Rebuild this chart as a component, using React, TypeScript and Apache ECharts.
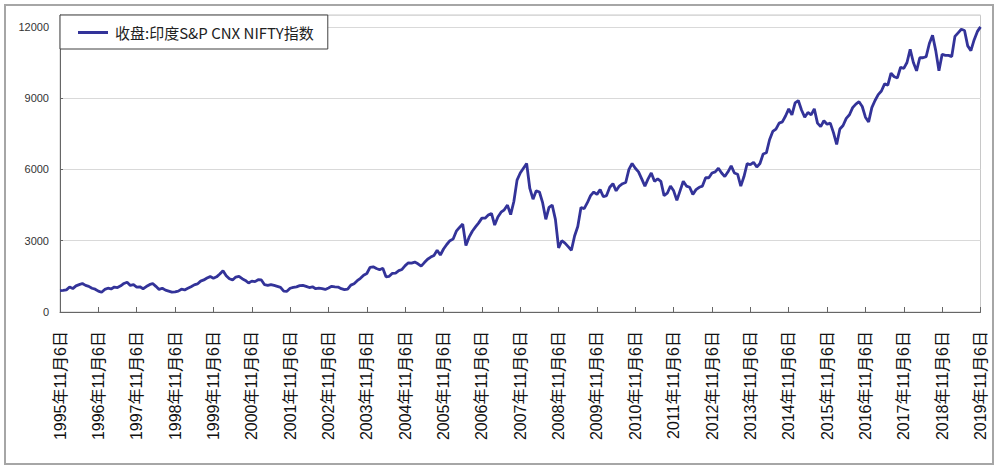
import React, { useEffect, useRef } from "react";
import * as echarts from "echarts";

// Monthly closing values, Nov 1995 .. Nov 2019
const y1995_96 = [900, 910, 930, 1050, 985, 1100, 1150, 1200, 1120, 1080, 1000, 960];
const y1996_97 = [880, 830, 950, 1000, 970, 1050, 1030, 1100, 1200, 1250, 1120, 1150];
const y1997_98 = [1050, 1060, 980, 1070, 1150, 1200, 1080, 950, 1000, 920, 880, 840];
const y1998_99 = [850, 880, 960, 930, 1000, 1060, 1140, 1180, 1300, 1350, 1430, 1490];
const y1999_00 = [1420, 1480, 1600, 1740, 1530, 1400, 1350, 1470, 1500, 1400, 1330, 1220];
const y2000_01 = [1300, 1280, 1360, 1350, 1150, 1120, 1150, 1120, 1080, 1040, 880, 870];
const y2001_02 = [1000, 1040, 1060, 1110, 1120, 1080, 1030, 1060, 980, 1000, 980, 950];
const y2002_03 = [1010, 1080, 1060, 1050, 980, 940, 960, 1130, 1190, 1320, 1420, 1550];
const y2003_04 = [1620, 1880, 1900, 1830, 1780, 1840, 1480, 1500, 1630, 1640, 1740, 1790];
const y2004_05 = [1950, 2070, 2060, 2100, 2030, 1930, 2080, 2220, 2310, 2380, 2600, 2400];
const y2005_06 = [2650, 2840, 3000, 3070, 3400, 3560, 3700, 2800, 3150, 3400, 3580, 3750];
const y2006_07 = [3950, 3950, 4080, 4150, 3660, 4000, 4200, 4300, 4500, 4100, 4650, 5550];
const y2007_08 = [5850, 6050, 6250, 5200, 4750, 5100, 5050, 4600, 3900, 4400, 4500, 3900];
const y2008_09 = [2700, 3000, 2900, 2750, 2600, 3200, 3600, 4400, 4350, 4600, 4900, 5050];
const y2009_10 = [4950, 5150, 4850, 4900, 5250, 5400, 5100, 5300, 5400, 5450, 6000, 6250];
const y2010_11 = [6050, 5900, 5600, 5300, 5600, 5850, 5500, 5600, 5500, 4900, 5000, 5300];
const y2011_12 = [5100, 4700, 5100, 5500, 5300, 5250, 4950, 5150, 5250, 5300, 5650, 5650];
const y2012_13 = [5850, 5900, 6050, 5850, 5700, 5900, 6150, 5850, 5800, 5300, 5700, 6250];
const y2013_14 = [6200, 6300, 6100, 6250, 6650, 6700, 7250, 7600, 7700, 7950, 8000, 8250];
const y2014_15 = [8550, 8300, 8800, 8900, 8500, 8200, 8400, 8300, 8550, 7950, 7800, 8050];
const y2015_16 = [7900, 7950, 7550, 7050, 7700, 7850, 8150, 8300, 8600, 8750, 8850, 8650];
const y2016_17 = [8200, 8000, 8600, 8900, 9150, 9300, 9600, 9550, 10050, 9900, 9850, 10300];
const y2017_18 = [10250, 10500, 11050, 10500, 10150, 10700, 10700, 10750, 11300, 11650, 11000, 10150];
const y2018_19 = [10850, 10800, 10800, 10750, 11600, 11750, 11900, 11850, 11200, 11000, 11450, 11800];
const y2019_end = [12000];

const closeValues = [
  ...y1995_96, ...y1996_97, ...y1997_98, ...y1998_99, ...y1999_00, ...y2000_01,
  ...y2001_02, ...y2002_03, ...y2003_04, ...y2004_05, ...y2005_06, ...y2006_07,
  ...y2007_08, ...y2008_09, ...y2009_10, ...y2010_11, ...y2011_12, ...y2012_13,
  ...y2013_14, ...y2014_15, ...y2015_16, ...y2016_17, ...y2017_18, ...y2018_19,
  ...y2019_end,
];

// Category labels: one per month starting Nov 1995
const categories: string[] = closeValues.map((_, i) => {
  const total = 10 + i; // months from Jan 1995 (0-based), Nov = 10
  const year = 1995 + Math.floor(total / 12);
  const month = (total % 12) + 1;
  return `${year}年${month}月6日`;
});

const yTicks = [0, 3000, 6000, 9000, 12000];
const seriesName = "收盘:印度S&P CNX NIFTY指数";
const lineColor = "#333399";

export default function App() {
  const ref = useRef<HTMLDivElement>(null);
  useEffect(() => {
    if (!ref.current) return;
    const chart = echarts.init(ref.current, null, { renderer: "svg" });
    chart.setOption({
      animation: false,
      backgroundColor: "#ffffff",
      grid: {
        left: 60,
        right: 19.5,
        top: 15,
        bottom: 159,
        show: true,
        borderColor: "#c8c8c8",
        borderWidth: 1,
        backgroundColor: "transparent",
      },
      legend: {
        show: true,
        left: 60,
        top: 15,
        orient: "horizontal",
        backgroundColor: "#ffffff",
        borderColor: "#404040",
        borderWidth: 1,
        padding: [10, 14, 9, 18],
        itemWidth: 30,
        itemHeight: 3,
        itemGap: 4,
        icon: "rect",
        itemStyle: { color: lineColor, borderWidth: 0 },
        textStyle: {
          fontFamily: "'Noto Sans CJK SC', 'Liberation Sans', sans-serif",
          fontSize: 15,
          color: "#222",
          padding: [2, 0, 0, 2],
        },
        data: [seriesName],
      },
      xAxis: {
        type: "category",
        data: categories,
        boundaryGap: false,
        axisLine: { show: true, lineStyle: { color: "#666666", width: 1 } },
        axisTick: { show: true, inside: true, length: 5, interval: 11, lineStyle: { color: "#666666" } },
        axisLabel: {
          interval: 11,
          rotate: 90,
          margin: 19,
          fontSize: 16,
          color: "#111",
          fontFamily: "'Liberation Sans', 'Noto Sans CJK SC', sans-serif",
          showMaxLabel: true,
        },
        splitLine: { show: false },
      },
      yAxis: {
        type: "value",
        min: 0,
        max: 12500,
        interval: 3000,
        axisLine: { show: true, lineStyle: { color: "#666666", width: 1 } },
        axisTick: { show: true, inside: true, length: 3, lineStyle: { color: "#666666" } },
        axisLabel: {
          margin: 11,
          fontSize: 11,
          color: "#333",
          fontFamily: "'Liberation Sans', Arial, sans-serif",
          showMaxLabel: false,
          formatter: (v: number) => (yTicks.includes(v) ? String(v) : ""),
        },
        splitLine: { show: true, lineStyle: { color: "#d9d9d9", width: 1 } },
      },
      series: [
        {
          name: seriesName,
          type: "line",
          data: closeValues,
          symbol: "none",
          showSymbol: false,
          lineStyle: { color: lineColor, width: 2.8 },
          itemStyle: { color: lineColor },
          z: 3,
        },
      ],
      graphic: [
        {
          type: "rect",
          shape: { x: 5, y: 5, width: 988, height: 459 },
          style: { fill: "none", stroke: "#a6a6a6", lineWidth: 2 },
          silent: true,
          z: 100,
        },
      ],
    });
    return () => chart.dispose();
  }, []);
  return (
    <div
      ref={ref}
      style={{ position: "absolute", left: 0, top: 0, width: 1000, height: 471 }}
    />
  );
}
